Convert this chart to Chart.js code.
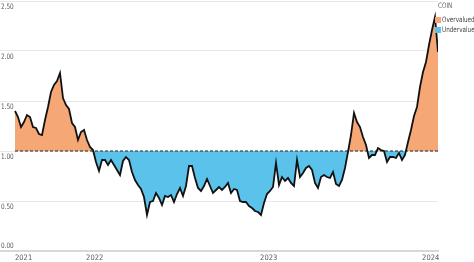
<!DOCTYPE html>
<html>
<head>
<meta charset="utf-8">
<script src="https://cdn.jsdelivr.net/npm/chart.js@4.4.1/dist/chart.umd.min.js"></script>
<style>
	html, body { margin: 0; padding: 0; background: #fff; overflow: hidden; }
	#wrap { position: relative; width: 474px; height: 262px; }
	#legend {
		position: absolute; left: 435px; top: 1px; width: 60px;
		font-family: "Liberation Sans Narrow", "DejaVu Sans Condensed", Roboto, sans-serif;
		font-size: 7.5px; line-height: 10.5px; color: #444; white-space: nowrap;
	}
	#legend .title { color: #666; padding-left: 3px; margin-bottom: 3px; }
	#legend .item { display: flex; align-items: center; }
	#legend .swatch { width: 6px; height: 6px; margin-right: 1px; display: inline-block; }
	#legend .name { display: inline-block; transform: scaleX(0.84); transform-origin: left center; }
	#legend .title span { display: inline-block; transform: scaleX(0.84); transform-origin: left center; }
</style>
</head>
<body>
<div id="wrap">
	<canvas id="chart" width="474" height="262"></canvas>
	<div id="legend"></div>
</div>
<script>
	// Price / fair value ratio for COIN, one value per week
	const coinRatio = [
		1.40, 1.34, 1.24, 1.29, 1.36, 1.34, 1.24, 1.23, 1.17, 1.16,
		1.31, 1.44, 1.59, 1.66, 1.70, 1.78, 1.53, 1.46, 1.42, 1.28,
		1.24, 1.11, 1.19, 1.21, 1.11, 1.04, 1.01, 0.89, 0.80, 0.91,
		0.91, 0.86, 0.91, 0.86, 0.81, 0.76, 0.90, 0.94, 0.91, 0.79,
		0.71, 0.66, 0.62, 0.54, 0.36, 0.49, 0.50, 0.58, 0.53, 0.46,
		0.55, 0.54, 0.56, 0.49, 0.57, 0.63, 0.55, 0.65, 0.85, 0.85,
		0.73, 0.63, 0.60, 0.65, 0.72, 0.65, 0.58, 0.61, 0.64, 0.61,
		0.64, 0.68, 0.58, 0.62, 0.61, 0.50, 0.49, 0.49, 0.45, 0.43,
		0.40, 0.39, 0.36, 0.48, 0.57, 0.60, 0.64, 0.88, 0.66, 0.74,
		0.70, 0.73, 0.68, 0.65, 0.91, 0.74, 0.78, 0.83, 0.85, 0.81,
		0.68, 0.63, 0.74, 0.76, 0.74, 0.73, 0.79, 0.67, 0.65, 0.71,
		0.83, 0.99, 1.16, 1.38, 1.29, 1.24, 1.14, 1.06, 0.93, 0.96,
		0.96, 1.03, 1.01, 1.00, 0.89, 0.94, 0.94, 0.93, 0.98, 0.91,
		0.96, 1.09, 1.21, 1.35, 1.44, 1.64, 1.79, 1.89, 2.06, 2.21,
		2.34, 1.99
	];
	const fairValue = 1;
	const yearLabels = ["2021", "2022", "2023", "2024"];
	const yearWeeks = [0, 23.7, 81.7, 135.7];
	const yTicks = [0, 0.5, 1, 1.5, 2, 2.5];
	const seriesName = "COIN";
	const zoneNames = ["Overvalued", "Undervalued"];

	const overColor = "#F5A876";
	const underColor = "#5BC3EB";
	const fontFamily = '"Liberation Sans Narrow", "DejaVu Sans Condensed", Roboto, sans-serif';

	const lastWeek = coinRatio.length - 1;
	const points = coinRatio.map((v, i) => ({ x: i, y: v }));

	// y labels sit just under their gridline (the 0.00 one just above the axis)
	const yLabelPlugin = {
		id: "yLabels",
		afterDraw(chart) {
			const { ctx } = chart;
			const y = chart.scales.y;
			ctx.save();
			ctx.font = `7.5px ${fontFamily}`;
			ctx.fillStyle = "#5a5a5a";
			ctx.textAlign = "left";
			ctx.textBaseline = "middle";
			yTicks.forEach(v => {
				const py = y.getPixelForValue(v);
				ctx.save();
				ctx.translate(1, v === 0 ? py - 5 : py + 6);
				ctx.scale(0.85, 1);
				ctx.fillText(v.toFixed(2), 0, 0);
				ctx.restore();
			});
			ctx.restore();
		}
	};

	new Chart(document.getElementById("chart"), {
		type: "line",
		data: {
			datasets: [
				{
					label: seriesName,
					data: points,
					borderColor: "#111",
					borderWidth: 1.8,
					pointRadius: 0,
					tension: 0,
					fill: { target: { value: fairValue }, above: overColor, below: underColor }
				},
				{
					label: "Fair value",
					data: [{ x: 0, y: fairValue }, { x: lastWeek, y: fairValue }],
					borderColor: "#222",
					borderWidth: 1.2,
					borderDash: [3, 2],
					pointRadius: 0,
					fill: false
				}
			]
		},
		options: {
			responsive: false,
			animation: false,
			layout: { padding: { left: 0, top: 1, right: 36, bottom: 0 } },
			scales: {
				x: {
					type: "linear",
					min: -5,
					max: lastWeek,
					grid: { display: false, drawTicks: false },
					border: { display: true, color: "#d8d8d8", width: 2 },
					afterBuildTicks: s => { s.ticks = yearWeeks.map(v => ({ value: v })); },
					afterFit: s => { s.height = 11; },
					ticks: {
						align: "start",
						padding: 3,
						maxRotation: 0,
						autoSkip: false,
						color: "#5a5a5a",
						font: { family: fontFamily, size: 7.5 },
						callback: (v) => yearLabels[yearWeeks.indexOf(v)]
					}
				},
				y: {
					min: 0,
					max: 2.5,
					afterBuildTicks: s => { s.ticks = yTicks.map(v => ({ value: v })); },
					afterFit: s => { s.width = 0; },
					grid: { color: "#e8e8e8", lineWidth: 1, drawTicks: false },
					border: { display: false },
					ticks: { display: false }
				}
			},
			plugins: {
				legend: { display: false },
				tooltip: { enabled: false },
				filler: { drawTime: "beforeDatasetsDraw" }
			}
		},
		plugins: [yLabelPlugin]
	});

	const legend = document.getElementById("legend");
	legend.innerHTML = `<div class="title"><span>${seriesName}</span></div>` +
		zoneNames.map((name, idx) => `
			<div class="item">
				<span class="swatch" style="background:${idx === 0 ? overColor : underColor}"></span><span class="name">${name}</span>
			</div>`).join("");
</script>
</body>
</html>
